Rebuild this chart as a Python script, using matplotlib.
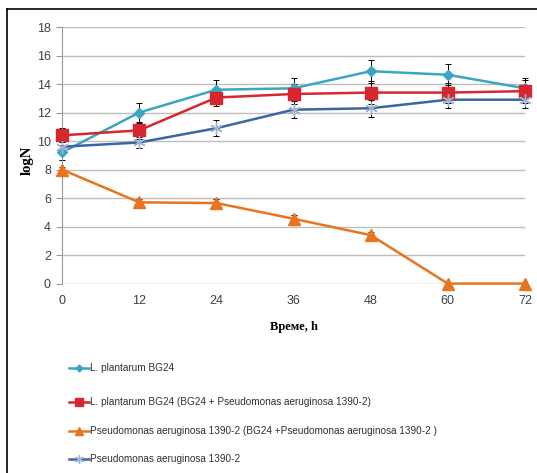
import matplotlib
matplotlib.use("Agg")
import matplotlib.pyplot as plt
from matplotlib.lines import Line2D

hours = [0, 12, 24, 36, 48, 60, 72]

lp_vals = [9.2, 12.0, 13.6, 13.7, 14.9, 14.65, 13.7]
lp_err = [0.5, 0.7, 0.7, 0.7, 0.8, 0.75, 0.7]

lp_mix_vals = [10.4, 10.75, 13.05, 13.3, 13.4, 13.4, 13.5]
lp_mix_err = [0.5, 0.6, 0.6, 0.7, 0.8, 0.7, 0.8]

pa_mix_vals = [8.0, 5.7, 5.65, 4.55, 3.4, 0.0, 0.0]
pa_mix_err = [0.2, 0.25, 0.3, 0.25, 0.2, 0.0, 0.0]

pa_vals = [9.6, 9.9, 10.9, 12.2, 12.3, 12.9, 12.9]
pa_err = [0.5, 0.4, 0.55, 0.6, 0.6, 0.6, 0.6]

labels = [
    "L. plantarum BG24",
    "L. plantarum BG24 (BG24 + Pseudomonas aeruginosa 1390-2)",
    "Pseudomonas aeruginosa 1390-2 (BG24 +Pseudomonas aeruginosa 1390-2 )",
    "Pseudomonas aeruginosa 1390-2",
]

plt.rcParams['font.family'] = ['Liberation Sans', 'DejaVu Sans']

fig = plt.figure(figsize=(5.37, 4.73), dpi=100)
ax = fig.add_axes([62 / 537, 1 - 283.6 / 473, 463 / 537, (283.6 - 27) / 473])

series = [
    (lp_vals, lp_err, "#3aa6c2", "D", 5, "#3aa6c2"),
    (lp_mix_vals, lp_mix_err, "#d7262f", "s", 8, "#d7262f"),
    (pa_mix_vals, pa_mix_err, "#e8741e", "^", 8, "#e8741e"),
    (pa_vals, pa_err, "#3c65a2", (6, 2, 0), 9, "#9fb3cf"),
]

for vals, err, col, mk, ms, mcol in series:
    ax.errorbar(hours, vals, yerr=err, fmt="none", ecolor="black",
                elinewidth=0.7, capsize=2.5, capthick=0.7, zorder=2, clip_on=False)
    ax.plot(hours, vals, color=col, lw=1.8, zorder=3, clip_on=False)
    ax.plot(hours, vals, ls="none", marker=mk, ms=ms, color=mcol,
            markeredgecolor=mcol, mew=1.0, zorder=4, clip_on=False)

ax.set_xlim(0, 72)
ax.set_ylim(0, 18)
ax.set_xticks(hours)
ax.set_yticks(range(0, 19, 2))
ax.grid(axis="y", color="#bdbdbd", lw=1.0)
ax.set_axisbelow(True)
for s in ["top", "right", "bottom"]:
    ax.spines[s].set_visible(False)
ax.spines["left"].set_color("#9a9a9a")
ax.tick_params(axis="y", length=4, color="#9a9a9a", labelsize=9, labelcolor="#404040", pad=4)
ax.tick_params(axis="x", length=0, labelsize=9, labelcolor="#404040", pad=8)

fig.text(27 / 537, 1 - 160 / 473, "logN", rotation=90, ha="center", va="center",
         fontsize=10.5, fontweight="bold", family="Liberation Serif")
fig.text(294 / 537, 1 - 327 / 473, "Време, h", ha="center", va="center",
         fontsize=9, fontweight="bold", family="Liberation Serif")

# legend drawn by hand under the plot
leg_y = [368, 402, 431, 459]
for (vals, err, col, mk, ms, mcol), lab, y in zip(series, labels, leg_y):
    fig.add_artist(Line2D([69 / 537, 89 / 537], [1 - y / 473] * 2, color=col,
                          lw=1.8, transform=fig.transFigure))
    fig.add_artist(Line2D([79 / 537], [1 - y / 473], ls="none", marker=mk,
                          ms=ms * 0.7, color=mcol, transform=fig.transFigure))
    fig.text(90 / 537, 1 - y / 473, lab, ha="left", va="center", fontsize=7.2,
             color="#303030")

# frame lines (left and top)
fig.add_artist(Line2D([7 / 537, 7 / 537], [0, 1 - 9 / 473], color="black", lw=1.2,
                      transform=fig.transFigure))
fig.add_artist(Line2D([7 / 537, 1], [1 - 9 / 473] * 2, color="black", lw=1.2,
                      transform=fig.transFigure))

fig.savefig("out.png", dpi=100)
